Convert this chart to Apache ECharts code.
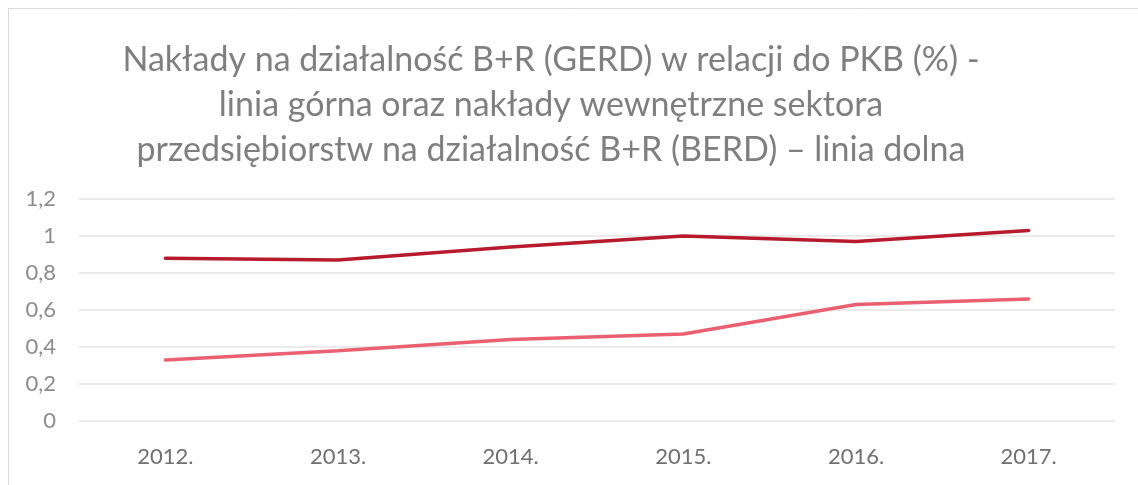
<!DOCTYPE html>
<html><head><meta charset="utf-8">
<script src="https://cdn.jsdelivr.net/npm/echarts@6/dist/echarts.min.js"></script>
<style>html,body{margin:0;padding:0;background:#fff}#c{width:1138px;height:485px}</style>
</head><body><div id="c"></div>
<script>
const categories = ['2012.', '2013.', '2014.', '2015.', '2016.', '2017.'];
const gerd = [0.88, 0.87, 0.94, 1.00, 0.97, 1.03];
const berd = [0.33, 0.38, 0.44, 0.47, 0.63, 0.66];
const titleText = 'Nakłady na działalność B+R (GERD) w relacji do PKB (%) -\nlinia górna oraz nakłady wewnętrzne sektora\nprzedsiębiorstw na działalność B+R (BERD) – linia dolna';

const chart = echarts.init(document.getElementById('c'), null, {renderer: 'canvas'});
chart.setOption({
  animation: false,
  backgroundColor: '#fff',
  graphic: [{
    type: 'rect', shape: {x: 8.5, y: 8.5, width: 1300, height: 700},
    style: {fill: 'none', stroke: '#D9D9D9', lineWidth: 1}, silent: true
  }],
  title: {
    text: titleText, left: 546, top: 33, textAlign: 'center',
    textStyle: {fontFamily: 'Lato', fontSize: 34, fontWeight: 'normal', color: '#7F7F7F', lineHeight: 45}
  },
  grid: {left: 79, right: 23, top: 199, bottom: 64, containLabel: false},
  xAxis: {
    type: 'category', data: categories, boundaryGap: true,
    axisLine: {show: false}, axisTick: {show: false},
    axisLabel: {color: '#707070', fontSize: 22, fontFamily: 'Lato', margin: 25}
  },
  yAxis: {
    type: 'value', min: 0, max: 1.2, interval: 0.2,
    axisLine: {show: false}, axisTick: {show: false},
    splitLine: {lineStyle: {color: '#E3E3E3', width: 1.5}},
    axisLabel: {color: '#8C8C8C', fontSize: 22, fontFamily: 'Lato', margin: 23,
      formatter: v => String(Math.round(v * 10) / 10).replace('.', ',')}
  },
  series: [
    {name: 'GERD', type: 'line', data: gerd, symbol: 'none',
      lineStyle: {color: '#B71A2C', width: 3.5, cap: 'round'}},
    {name: 'BERD', type: 'line', data: berd, symbol: 'none',
      lineStyle: {color: '#EB6070', width: 3.5, cap: 'round'}}
  ]
});
</script></body></html>
